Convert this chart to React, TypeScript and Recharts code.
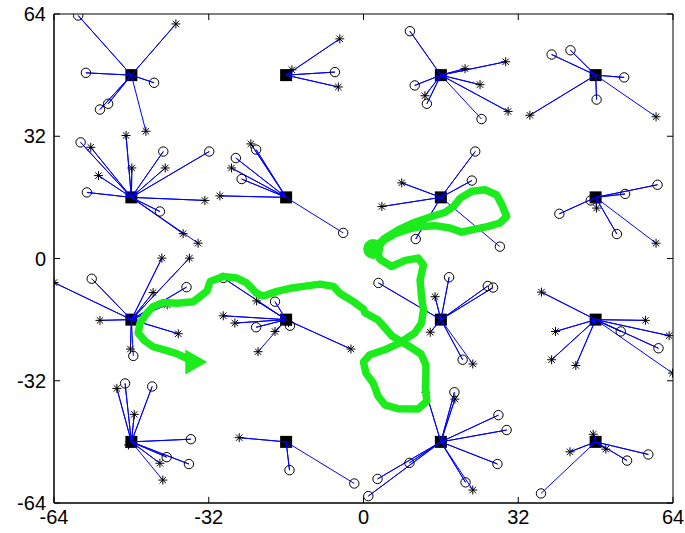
import React from "react";
import { ScatterChart, Scatter, XAxis, YAxis, ReferenceArea, ReferenceLine } from "recharts";

type Pt = [number, number];
type Obs = [number, number, "o" | "*"];

const TICKS = [-64, -32, 0, 32, 64];

const LANDMARKS: Pt[] = [
  [-48, 48], [-16, 48], [16, 48], [48, 48],
  [-48, 16], [-16, 16], [16, 16], [48, 16],
  [-48, -16], [-16, -16], [16, -16], [48, -16],
  [-48, -48], [-16, -48], [16, -48], [48, -48],
];

// observations seen from each landmark, same order as LANDMARKS
const obsR1C1: Obs[] = [[-59.0, 63.6, "o"], [-38.8, 61.4, "*"], [-57.4, 48.6, "o"], [-43.3, 46.0, "o"], [-52.8, 40.5, "o"], [-54.5, 39.0, "o"], [-45.0, 33.3, "*"]];
const obsR1C2: Obs[] = [[-4.9, 57.5, "*"], [-5.9, 48.8, "o"], [-5.2, 44.9, "*"], [-14.8, 49.4, "*"]];
const obsR1C3: Obs[] = [[9.6, 59.5, "o"], [21.0, 49.7, "*"], [29.4, 51.5, "*"], [10.6, 45.3, "o"], [24.1, 45.5, "*"], [12.7, 42.6, "*"], [13.1, 40.5, "o"], [29.9, 38.5, "*"], [24.4, 36.5, "o"]];
const obsR1C4: Obs[] = [[38.9, 53.4, "o"], [42.8, 54.5, "o"], [53.9, 47.4, "o"], [48.2, 41.6, "o"], [34.4, 37.5, "*"], [60.5, 37.1, "*"]];
const obsR2C1: Obs[] = [[-58.5, 30.4, "o"], [-56.4, 29.1, "*"], [-49.1, 32.2, "*"], [-47.9, 23.7, "*"], [-41.4, 28.0, "o"], [-41.0, 23.7, "*"], [-31.9, 28.0, "o"], [-54.8, 21.7, "*"], [-57.2, 17.3, "o"], [-32.8, 15.2, "*"], [-42.1, 12.3, "o"], [-37.3, 6.5, "*"], [-34.2, 4.0, "*"]];
const obsR2C2: Obs[] = [[-23.3, 30.0, "*"], [-22.2, 28.5, "o"], [-26.4, 26.3, "o"], [-27.3, 23.7, "*"], [-25.2, 20.8, "o"], [-29.7, 16.4, "*"], [-4.2, 6.7, "o"]];
const obsR2C3: Obs[] = [[23.1, 28.0, "o"], [22.4, 20.4, "o"], [7.9, 19.8, "*"], [3.8, 13.6, "*"], [10.8, 5.1, "o"], [28.2, 3.1, "o"]];
const obsR2C4: Obs[] = [[60.8, 19.3, "o"], [54.1, 16.9, "o"], [47.0, 15.2, "o"], [48.2, 13.2, "*"], [40.5, 11.7, "o"], [52.4, 6.4, "o"], [60.5, 4.0, "*"]];
const obsR3C1: Obs[] = [[-41.7, 0.1, "*"], [-36.0, 0.1, "*"], [-56.2, -5.3, "o"], [-64.0, -6.3, "*"], [-43.5, -8.9, "*"], [-36.6, -7.5, "o"], [-40.6, -12.1, "*"], [-54.5, -16.2, "*"], [-38.3, -19.7, "*"], [-48.2, -23.7, "*"], [-47.6, -25.5, "o"]];
const obsR3C2: Obs[] = [[-29.0, -5.1, "o"], [-18.3, -11.3, "o"], [-22.1, -11.1, "*"], [-29.0, -15.0, "*"], [-26.6, -16.9, "*"], [-22.2, -18.0, "o"], [-15.2, -17.6, "o"], [-18.3, -19.1, "*"], [-15.5, -16.8, "*"], [-2.6, -23.7, "*"], [-21.8, -24.4, "*"]];
const obsR3C3: Obs[] = [[3.1, -6.4, "o"], [17.7, -4.9, "o"], [25.7, -7.2, "o"], [26.8, -7.6, "o"], [14.8, -10.0, "*"], [13.8, -19.3, "*"], [20.5, -26.5, "o"], [22.6, -27.6, "*"]];
const obsR3C4: Obs[] = [[36.8, -8.8, "*"], [58.3, -16.2, "*"], [39.7, -19.1, "*"], [53.2, -19.1, "o"], [63.2, -20.2, "*"], [38.9, -26.5, "*"], [43.9, -28.0, "*"], [61.0, -23.5, "o"], [63.9, -30.0, "*"]];
const obsR4C1: Obs[] = [[-49.3, -32.7, "o"], [-51.0, -34.0, "*"], [-43.7, -33.5, "o"], [-47.4, -40.8, "*"], [-35.7, -47.3, "o"], [-48.6, -48.8, "*"], [-40.7, -52.0, "o"], [-42.1, -53.6, "*"], [-36.1, -53.8, "o"], [-41.5, -58.0, "*"]];
const obsR4C2: Obs[] = [[-25.7, -46.9, "*"], [-15.3, -55.4, "o"], [-1.9, -58.9, "o"]];
const obsR4C3: Obs[] = [[12.9, -35.0, "*"], [18.8, -35.0, "o"], [18.9, -36.8, "*"], [27.9, -41.0, "o"], [29.6, -44.9, "o"], [27.7, -53.8, "o"], [9.5, -53.5, "o"], [2.9, -57.7, "o"], [1.0, -62.2, "o"], [21.1, -58.6, "o"], [22.6, -60.6, "*"]];
const obsR4C4: Obs[] = [[47.5, -46.0, "*"], [42.7, -50.6, "*"], [50.1, -49.9, "*"], [58.9, -51.3, "o"], [54.5, -52.9, "o"], [36.7, -61.5, "o"]];

const OBSERVATIONS = [
  obsR1C1, obsR1C2, obsR1C3, obsR1C4,
  obsR2C1, obsR2C2, obsR2C3, obsR2C4,
  obsR3C1, obsR3C2, obsR3C3, obsR3C4,
  obsR4C1, obsR4C2, obsR4C3, obsR4C4,
];

// robot trajectory, start -> end
const robotPath: Pt[] = [
  [2.0, 2.5], [4.4, 5.3], [7.2, 7.5], [10.6, 9.5], [14.1, 11.0], [16.9, 12.1], [18.6, 13.6], [20.0, 15.8],
  [22.4, 17.6], [25.1, 18.0], [27.5, 16.7], [28.6, 14.1], [29.6, 11.0], [28.2, 9.3], [25.8, 8.4], [23.1, 7.7],
  [20.3, 6.9], [17.9, 8.0], [14.8, 8.6], [12.0, 8.4], [9.3, 7.7], [6.5, 6.5], [4.1, 4.7], [2.7, 2.3],
  [3.4, -0.2], [5.8, -2.1], [8.6, -0.5], [11.3, 0.1], [12.4, -1.7], [11.7, -5.6], [12.0, -10.0], [12.4, -13.4],
  [12.0, -16.9], [10.6, -19.5], [7.5, -22.1], [4.4, -23.9], [1.3, -25.2], [0, -27.1], [0.5, -30.0], [2.0, -32.6],
  [3.0, -36.0], [4.4, -38.3], [7.1, -39.3], [11.3, -39.4], [13.1, -37.3], [12.8, -33.9], [12.9, -30.5], [12.9, -27.9],
  [11.9, -25.0], [9.6, -23.1], [5.9, -20.3], [3.0, -16.1], [0.3, -14.2], [0, -13.2], [-2.1, -11.3], [-4.9, -9.1],
  [-6.2, -7.3], [-9.0, -6.7], [-12.4, -7.3], [-15.2, -7.8], [-17.9, -8.6], [-20.7, -9.8], [-22.1, -9.1], [-24.2, -6.4],
  [-26.2, -5.1], [-29.0, -4.7], [-31.7, -6.0], [-32.4, -8.6], [-35.2, -11.3], [-38.6, -11.7], [-41.4, -11.5], [-43.5, -12.6],
  [-44.8, -14.3], [-46.2, -16.9], [-46.6, -19.5], [-45.2, -21.6], [-43.5, -23.1], [-41.2, -23.9], [-38.4, -25.0], [-36.3, -26.3],
  [-35.0, -27.1],
];

const GREEN = "#1cec1c";
const BLUE = "#0000ff";
const FONT = "'Liberation Sans', Arial, Helvetica, sans-serif";

const toXY = ([x, y]: Pt | Obs) => ({ x, y });

const landmarkData = LANDMARKS.map(toXY);
const spokeSets = LANDMARKS.map((c, i) =>
  OBSERVATIONS[i].flatMap((o) => [toXY(c), toXY(o)])
);
const allObs = OBSERVATIONS.flat();
const circleData = allObs.filter((o) => o[2] === "o").map(toXY);
const starData = allObs.filter((o) => o[2] === "*").map(toXY);
const pathData = robotPath.map(toXY);
const startData = [toXY(robotPath[0])];
const endData = [toXY(robotPath[robotPath.length - 1])];

const Empty = () => <g />;

const Square = ({ cx, cy }: any) => <rect x={cx - 6} y={cy - 6} width={12} height={12} fill="#000" />;

const OpenCircle = ({ cx, cy }: any) => (
  <circle cx={cx} cy={cy} r={4.7} fill="none" stroke="#000" strokeWidth={1} />
);

const Star = ({ cx, cy }: any) => (
  <g stroke="#000" strokeWidth={1}>
    <line x1={cx} y1={cy - 4.5} x2={cx} y2={cy + 4.5} />
    <line x1={cx - 4.5} y1={cy} x2={cx + 4.5} y2={cy} />
    <line x1={cx - 3.2} y1={cy - 3.2} x2={cx + 3.2} y2={cy + 3.2} />
    <line x1={cx - 3.2} y1={cy + 3.2} x2={cx + 3.2} y2={cy - 3.2} />
  </g>
);

const StartDot = ({ cx, cy }: any) => <circle cx={cx} cy={cy} r={10} fill={GREEN} />;

const EndArrow = ({ cx, cy }: any) => (
  <polygon points={`${cx - 9},${cy - 12.5} ${cx - 9},${cy + 12.5} ${cx + 13},${cy}`} fill={GREEN} />
);

// inward tick marks on all four sides (MATLAB box style)
const TICK_DX = 1.25;
const TICK_DY = 1.6;

export default function App() {
  const tickStyle = { fill: "#000", fontSize: 20, fontFamily: FONT };
  return (
    <div style={{ position: "absolute", left: 0, top: 0, background: "#fff" }}>
      <ScatterChart width={685} height={533} margin={{ top: 14, right: 12, bottom: 0, left: 0 }}>
        <XAxis
          type="number"
          dataKey="x"
          domain={[-64, 64]}
          ticks={TICKS}
          allowDataOverflow
          tickLine={false}
          axisLine={{ stroke: "#000" }}
          tick={tickStyle}
          tickMargin={1}
          height={30}
        />
        <YAxis
          type="number"
          dataKey="y"
          domain={[-64, 64]}
          ticks={TICKS}
          allowDataOverflow
          tickLine={false}
          axisLine={{ stroke: "#000" }}
          tick={tickStyle}
          width={54}
        />
        <ReferenceArea x1={-64} x2={64} y1={-64} y2={64} fill="none" fillOpacity={0} stroke="#000" strokeWidth={1} />
        {TICKS.map((t) => (
          <ReferenceLine key={`b${t}`} segment={[{ x: t, y: -64 }, { x: t, y: -64 + TICK_DY }]} stroke="#000" />
        ))}
        {TICKS.map((t) => (
          <ReferenceLine key={`t${t}`} segment={[{ x: t, y: 64 }, { x: t, y: 64 - TICK_DY }]} stroke="#000" />
        ))}
        {TICKS.map((t) => (
          <ReferenceLine key={`l${t}`} segment={[{ x: -64, y: t }, { x: -64 + TICK_DX, y: t }]} stroke="#000" />
        ))}
        {TICKS.map((t) => (
          <ReferenceLine key={`r${t}`} segment={[{ x: 64, y: t }, { x: 64 - TICK_DX, y: t }]} stroke="#000" />
        ))}

        <Scatter data={landmarkData} shape={Square} isAnimationActive={false} />
        {spokeSets.map((d, i) => (
          <Scatter
            key={i}
            data={d}
            line={{ stroke: BLUE, strokeWidth: 1 }}
            shape={Empty}
            isAnimationActive={false}
          />
        ))}
        <Scatter data={circleData} shape={OpenCircle} isAnimationActive={false} />
        <Scatter data={starData} shape={Star} isAnimationActive={false} />

        <Scatter
          data={pathData}
          line={{ stroke: GREEN, strokeWidth: 7.5, strokeLinejoin: "round", strokeLinecap: "round" }}
          shape={Empty}
          isAnimationActive={false}
        />
        <Scatter data={startData} shape={StartDot} isAnimationActive={false} />
        <Scatter data={endData} shape={EndArrow} isAnimationActive={false} />
      </ScatterChart>
    </div>
  );
}
